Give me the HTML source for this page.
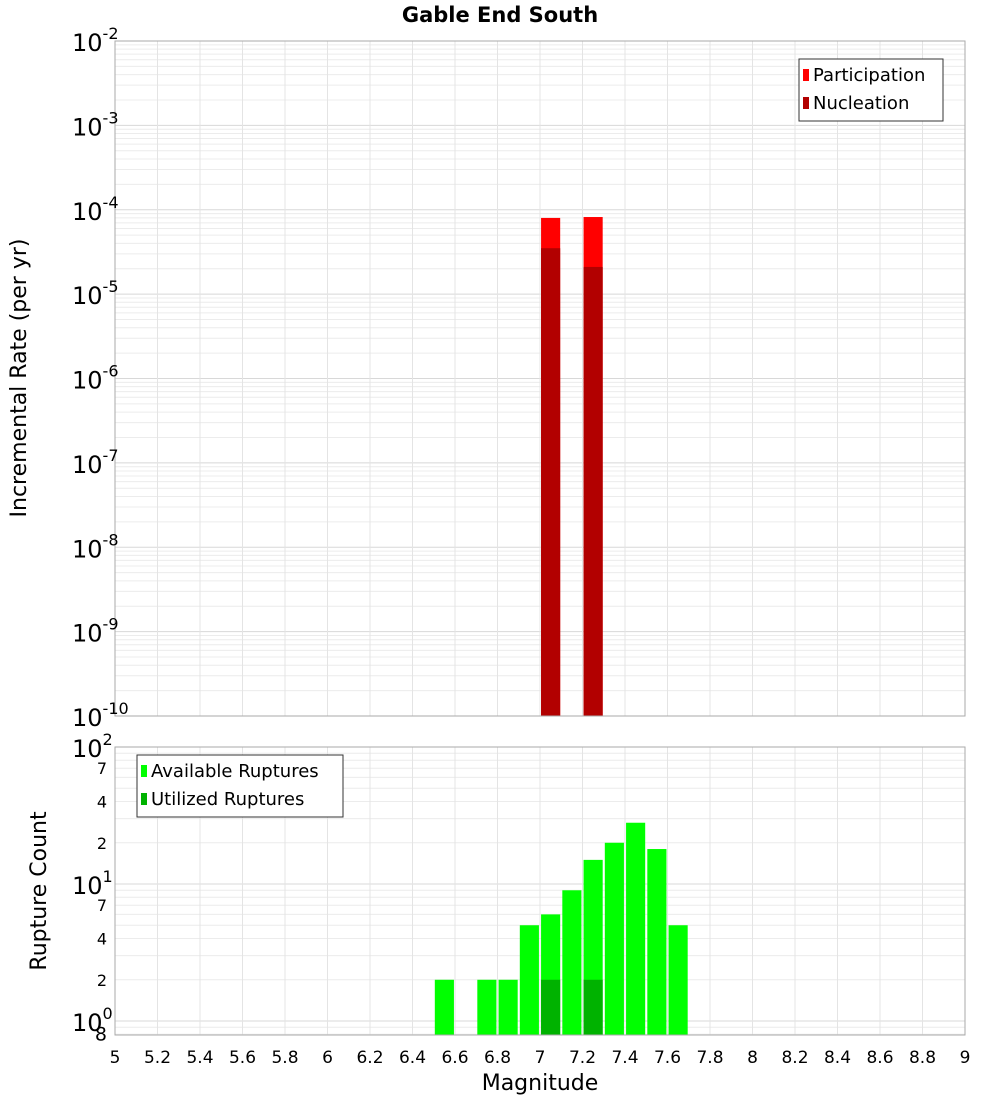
<!DOCTYPE html>
<html><head><meta charset="utf-8"><style>
body{margin:0;background:#fff;font-family:"Liberation Sans","DejaVu Sans",sans-serif;}
svg text{font-family:"DejaVu Sans","Liberation Sans",sans-serif;}
</style></head><body>
<svg id="chart" width="1000" height="1100" xmlns="http://www.w3.org/2000/svg">
<text x="500" y="22" text-anchor="middle" font-size="21" font-weight="bold">Gable End South</text>
<g id="topG"></g><g id="botG"></g>
</svg>
<script>
const mags=[6.55,6.65,6.75,6.85,6.95,7.05,7.15,7.25,7.35,7.45,7.55,7.65];
const available=[2,0,2,2,5,6,9,15,20,28,18,5];
const utilized=[0,0,0,0,0,2,0,2,0,0,0,0];
const rateMags=[7.05,7.25];
const participation=[8.0e-5,8.2e-5];
const nucleation=[3.5e-5,2.1e-5];
const xTicks=["5","5.2","5.4","5.6","5.8","6","6.2","6.4","6.6","6.8","7","7.2","7.4","7.6","7.8","8","8.2","8.4","8.6","8.8","9"];

const NS="http://www.w3.org/2000/svg";
const svgEl=document.getElementById('chart');
function mk(tag,attrs,parent,txt){const e=document.createElementNS(NS,tag);for(const k in attrs)e.setAttribute(k,attrs[k]);if(txt!==undefined)e.textContent=txt;(parent||svgEl).appendChild(e);return e;}
const X0=115,X1=965;
const xs=m=>X0+(m-5)/4*(X1-X0);
const T0=41,T1=716;
const yT=v=>T0+(-2-Math.log10(v))/8*(T1-T0);
const B0=747,B1=1035,BD=137;
const yB=v=>B0+(2-Math.log10(v))*BD;

const topG=document.getElementById('topG');
const botG=document.getElementById('botG');
for(let d=-10;d<-2;d++)for(let k=1;k<10;k++){const y=yT(k*Math.pow(10,d));const g=mk('line',{x1:X0,x2:X1,y1:y,y2:y,stroke:k==1?'#d8d8d8':'#ececec','stroke-width':1},topG);

}
for(let d=-1;d<2;d++)for(let k=1;k<10;k++){const v=k*Math.pow(10,d);if(v<0.8)continue;const y=yB(v);const g=mk('line',{x1:X0,x2:X1,y1:y,y2:y,stroke:k==1?'#d8d8d8':'#ececec','stroke-width':1},botG);

}
xTicks.forEach(t=>{const x=xs(+t);
 const a=mk('line',{x1:x,x2:x,y1:T0,y2:T1,stroke:'#e4e4e4'},topG);
 
 
 const b=mk('line',{x1:x,x2:x,y1:B0,y2:B1,stroke:'#e4e4e4'},botG);
 
 
 const l=mk('text',{x:x,y:1063,'text-anchor':'middle','font-size':17},svgEl,t);
 
 });
const bw=0.09;
rateMags.forEach((m,i)=>{
 const x=xs(m-bw/2),w=xs(m+bw/2)-x;
 const p=mk('rect',{x:x,y:yT(participation[i]),width:w,height:T1-yT(participation[i]),fill:'#ff0000'},topG);
 
 
 const n=mk('rect',{x:x,y:yT(nucleation[i]),width:w,height:T1-yT(nucleation[i]),fill:'#b20000'},topG);
 
 });
mags.forEach((m,i)=>{
 const x=xs(m-bw/2),w=xs(m+bw/2)-x;
 if(available[i]>0){const a=mk('rect',{x:x,y:yB(available[i]),width:w,height:B1-yB(available[i]),fill:'#00ff00'},botG);
 
 }
 if(utilized[i]>0){const u=mk('rect',{x:x,y:yB(utilized[i]),width:w,height:B1-yB(utilized[i]),fill:'#00b200'},botG);
 
 }});
const f1=mk('rect',{x:X0,y:T0,width:X1-X0,height:T1-T0,fill:'none',stroke:'#aaa'});


const f2=mk('rect',{x:X0,y:B0,width:X1-X0,height:B1-B0,fill:'none',stroke:'#aaa'});


for(let d=-10;d<=-2;d++){const y=yT(Math.pow(10,d));const t=mk('text',{x:72,y:y+10,'font-size':24});
 
 
 t.appendChild(document.createTextNode('10'));mk('tspan',{dy:-12,'font-size':16},t,String(d));}
const bl=[[100,'10','2'],[10,'10','1'],[1,'10','0']];
bl.forEach(b=>{const y=yB(b[0]);const t=mk('text',{x:72,y:y+10,'font-size':24});
 
 
 t.appendChild(document.createTextNode(b[1]));mk('tspan',{dy:-12,'font-size':16},t,b[2]);});
[[70,'7'],[40,'4'],[20,'2'],[7,'7'],[4,'4'],[2,'2'],[0.8,'8']].forEach(b=>{const t=mk('text',{x:107,y:yB(b[0])+6,'text-anchor':'end','font-size':b[0]==0.8?19:16},svgEl,b[1]);
 
 });
const yt=mk('text',{x:0,y:0,transform:'translate(26,378) rotate(-90)','text-anchor':'middle','font-size':22},svgEl,'Incremental Rate (per yr)');


const yb=mk('text',{x:0,y:0,transform:'translate(46,891) rotate(-90)','text-anchor':'middle','font-size':22},svgEl,'Rupture Count');


const xt=mk('text',{x:540,y:1090,'text-anchor':'middle','font-size':22},svgEl,'Magnitude');


function drawLegend(x,y,w,items,nm){const g=mk('g',{});
 
 
 mk('rect',{x:x,y:y,width:w,height:items.length*28+6,fill:'#fff',stroke:'#333'},g);
 items.forEach((it,i)=>{mk('rect',{x:x+4,y:y+10+i*28,width:6,height:12,fill:it[1]},g);mk('text',{x:x+14,y:y+22+i*28,'font-size':18},g,it[0]);});}
drawLegend(799,59,144,[['Participation','#ff0000'],['Nucleation','#b20000']],'top-legend');
drawLegend(137,755,206,[['Available Ruptures','#00ff00'],['Utilized Ruptures','#00b200']],'bottom-legend');
</script>
</body></html>
